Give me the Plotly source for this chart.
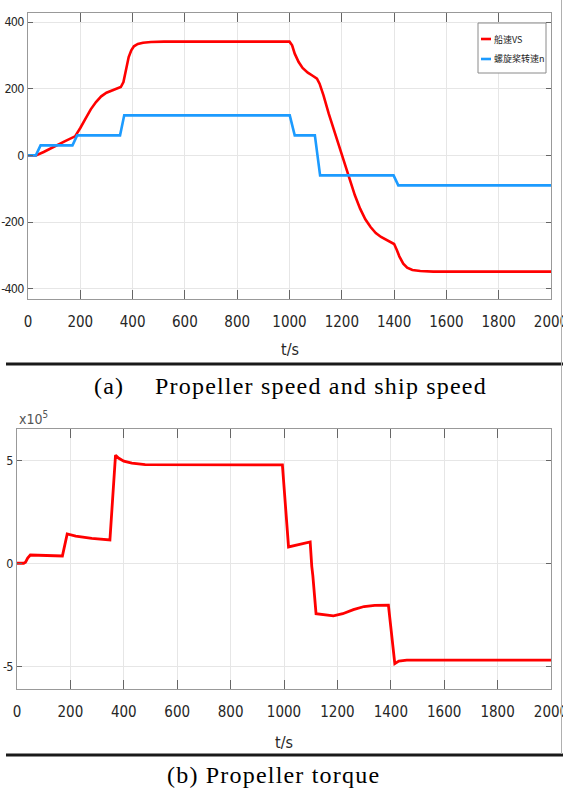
import plotly.graph_objects as go

# ---------------- data ----------------
# (a) ship speed VS
T_VS = [0, 30, 60, 100, 140, 180, 190, 200, 220, 240, 260, 280, 300, 320, 340, 355,
        365, 375, 385, 395, 405, 420, 440, 470, 520, 1000, 1010, 1020, 1035, 1050,
        1070, 1090, 1105, 1115, 1130, 1150, 1170, 1190, 1210, 1230, 1250, 1270,
        1290, 1310, 1330, 1350, 1370, 1390, 1400, 1410, 1420, 1435, 1450, 1470,
        1500, 1550, 2000]
VS = [0, 0, 10, 27, 42, 57, 68, 82, 110, 138, 160, 177, 188, 195, 200, 205,
      220, 255, 295, 315, 327, 334, 338, 340, 341, 341, 330, 305, 280, 262,
      248, 238, 230, 215, 180, 125, 75, 25, -25, -75, -120, -160,
      -192, -215, -233, -245, -253, -260, -266, -283, -303, -325, -337, -344,
      -347, -349, -349]

# (a) propeller speed n
T_N = [0, 30, 48, 170, 188, 352, 368, 1001, 1020, 1097, 1117, 1398, 1416, 2000]
N = [0, 0, 30, 30, 60, 60, 120, 120, 60, 60, -60, -60, -90, -90]

# (b) propeller torque
T_Q = [0, 25, 32, 40, 50, 100, 170, 188, 220, 280, 348, 369, 380, 400, 430, 480,
       994, 1017, 1050, 1098, 1104, 1108, 1120, 1150, 1185, 1220, 1260, 1300,
       1340, 1391, 1415, 1430, 1460, 2000]
Q = [0, 0, 5000, 25000, 40000, 38000, 35000, 142000, 132000, 120000, 113000,
     524000, 510000, 495000, 485000, 478000, 477000, 79000, 90000, 103000,
     -15000, -60000, -245000, -250000, -255000, -245000, -225000, -210000,
     -204000, -203000, -487000, -475000, -470000, -470000]

SERIES_NAMES = ["船速VS", "螺旋桨转速n", "Torque"]
X_TICKS = list(range(0, 2001, 200))
X_TICKTEXT = [str(v) for v in X_TICKS]
YA_TICKS = [-400, -200, 0, 200, 400]
YA_TICKTEXT = ["-400", "-200", "0", "200", "400"]
YB_TICKS = [-500000, 0, 500000]
YB_TICKTEXT = ["-5", "0", "5"]

RED = "#ff0000"
BLUE = "#1c9bff"

W, H = 563, 790
def px(x):
    return x / W
def py(y):
    return 1 - y / H

FAM = "Liberation Sans Narrow, DejaVu Sans Condensed, Arial Narrow, sans-serif"
TICKFONT = dict(family=FAM, size=15, color="#262626")
YTICKFONT = dict(family=FAM, size=12.5, color="#262626")

def tight(labels):
    return ['<span style="letter-spacing:-0.8px">%s</span>' % s for s in labels]

fig = go.Figure()
fig.add_trace(go.Scatter(x=T_VS, y=VS, mode="lines", name=SERIES_NAMES[0],
                         line=dict(color=RED, width=2.6), xaxis="x", yaxis="y"))
fig.add_trace(go.Scatter(x=T_N, y=N, mode="lines", name=SERIES_NAMES[1],
                         line=dict(color=BLUE, width=2.6), xaxis="x", yaxis="y"))
fig.add_trace(go.Scatter(x=T_Q, y=Q, mode="lines", name=SERIES_NAMES[2],
                         line=dict(color=RED, width=2.8), xaxis="x2", yaxis="y2"))

common_x = dict(range=[0, 2000], tickvals=X_TICKS, ticktext=X_TICKTEXT,
                ticks="inside", ticklen=9, tickcolor="#666", tickwidth=1,
                showline=True, linecolor="#999", linewidth=1, mirror="ticks",
                showgrid=True, gridcolor="#e6e6e6", gridwidth=1, zeroline=False,
                tickfont=TICKFONT, ticklabelstandoff=9, ticklabeloverflow="allow",
                automargin=False, fixedrange=True)
common_y = dict(ticks="inside", ticklen=5, tickcolor="#666", tickwidth=1,
                showline=True, linecolor="#999", linewidth=1, mirror="ticks",
                showgrid=True, gridcolor="#e6e6e6", gridwidth=1, zeroline=False,
                tickfont=YTICKFONT, ticklabelstandoff=1, ticklabeloverflow="allow",
                automargin=False, fixedrange=True)

fig.update_layout(
    width=W, height=H, margin=dict(l=0, r=0, t=0, b=0, autoexpand=False),
    paper_bgcolor="white", plot_bgcolor="white", showlegend=False,
    xaxis=dict(domain=[px(28), px(551)], anchor="y", **common_x),
    yaxis=dict(domain=[py(299), py(13)], anchor="x", range=[-431, 427],
               tickvals=YA_TICKS, ticktext=tight(YA_TICKTEXT), **common_y),
    xaxis2=dict(domain=[px(17), px(551)], anchor="y2", **common_x),
    yaxis2=dict(domain=[py(689), py(429)], anchor="x2", range=[-610000, 651000],
                tickvals=YB_TICKS, ticktext=tight(YB_TICKTEXT), **common_y),
)

shapes = []
# separator rules
shapes.append(dict(type="line", xref="paper", yref="paper", x0=px(6), x1=1.0,
                   y0=py(364), y1=py(364), line=dict(color="#1a1a1a", width=3)))
shapes.append(dict(type="line", xref="paper", yref="paper", x0=px(6), x1=1.0,
                   y0=py(755), y1=py(755), line=dict(color="#1a1a1a", width=3)))
# right frame edge
shapes.append(dict(type="line", xref="paper", yref="paper", x0=px(561.5), x1=px(561.5),
                   y0=py(0), y1=py(754), line=dict(color="#b0b0b0", width=1)))
# legend box
shapes.append(dict(type="rect", xref="paper", yref="paper", x0=px(478), x1=px(546),
                   y0=py(73), y1=py(23), line=dict(color="#8a8a8a", width=1),
                   fillcolor="white", layer="above"))
shapes.append(dict(type="line", xref="paper", yref="paper", x0=px(481), x1=px(491),
                   y0=py(39), y1=py(39), line=dict(color=RED, width=2.6), layer="above"))
shapes.append(dict(type="line", xref="paper", yref="paper", x0=px(481), x1=px(491),
                   y0=py(59), y1=py(59), line=dict(color=BLUE, width=2.6), layer="above"))
fig.update_layout(shapes=shapes)

LEGFONT = dict(family="Noto Sans CJK SC, sans-serif", size=9, color="#222")
LABFONT = dict(family=FAM, size=16, color="#262626")
CAPFONT = dict(family="Liberation Serif, Times New Roman, serif", size=24, color="#000")
SP = '<span style="letter-spacing:1.2px">'

ann = [
    dict(x=px(492), y=py(39), text=SERIES_NAMES[0], xanchor="left", yanchor="middle",
         font=LEGFONT),
    dict(x=px(492), y=py(59), text=SERIES_NAMES[1], xanchor="left", yanchor="middle",
         font=LEGFONT),
    dict(x=px(289.5), y=py(350), text="t/s", xanchor="center", yanchor="middle",
         font=LABFONT),
    dict(x=px(284), y=py(742), text="t/s", xanchor="center", yanchor="middle",
         font=LABFONT),
    dict(x=px(17), y=py(418), text="x10<sup>5</sup>", xanchor="left", yanchor="middle",
         font=dict(family=FAM, size=14, color="#555")),
    dict(x=px(92), y=py(386), text=SP + "(a)</span>",
         xanchor="left", yanchor="middle", font=CAPFONT),
    dict(x=px(153), y=py(386), text=SP + "Propeller speed and ship speed</span>",
         xanchor="left", yanchor="middle", font=CAPFONT),
    dict(x=px(273), y=py(775), text=SP + "(b) Propeller torque</span>",
         xanchor="center", yanchor="middle", font=CAPFONT),
]
for a in ann:
    a.update(xref="paper", yref="paper", showarrow=False)
fig.update_layout(annotations=ann)

fig.write_html("out.html")
